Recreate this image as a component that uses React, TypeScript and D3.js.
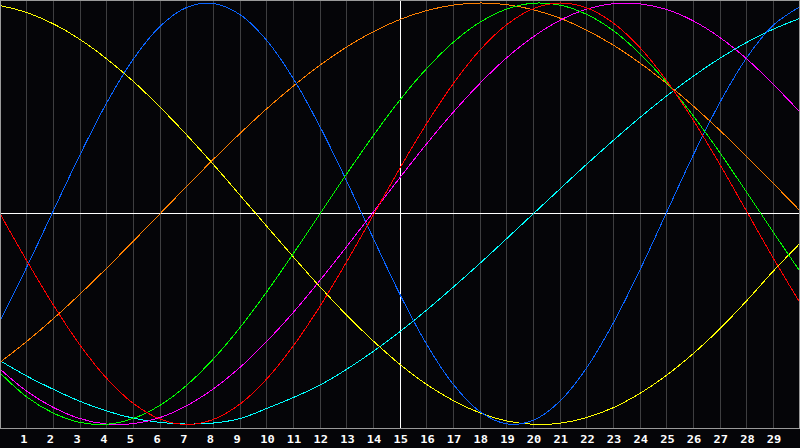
import React from 'react';
import * as d3 from 'd3';

// x positions (category index along the axis)
const xs = [0, 1, 2, 3, 4, 5, 6, 7, 8, 9, 10, 11, 12, 13, 14, 15, 16, 17, 18, 19, 20, 21, 22, 23, 24, 25, 26, 27, 28, 29, 30];

// tick labels under the grid lines
const tickLabels = ['1', '2', '3', '4', '5', '6', '7', '8', '9', '10', '11', '12', '13', '14', '15', '16', '17', '18', '19', '20', '21', '22', '23', '24', '25', '26', '27', '28', '29'];

// series values (normalised -1..1), read at each x position
const cyanValues = [-0.697, -0.770, -0.833, -0.890, -0.936, -0.970, -0.990, -0.998, -0.993, -0.972, -0.924, -0.872, -0.813, -0.738, -0.653, -0.559, -0.457, -0.348, -0.235, -0.118, 0.0, 0.118, 0.235, 0.348, 0.457, 0.559, 0.653, 0.738, 0.813, 0.876, 0.927];
const orangeValues = [-0.705, -0.606, -0.498, -0.381, -0.258, -0.130, 0.0, 0.130, 0.258, 0.381, 0.498, 0.606, 0.705, 0.791, 0.864, 0.922, 0.964, 0.990, 1.0, 0.992, 0.968, 0.928, 0.871, 0.800, 0.715, 0.618, 0.511, 0.395, 0.272, 0.144, 0.014];
const yellowValues = [0.988, 0.955, 0.901, 0.827, 0.735, 0.628, 0.506, 0.374, 0.234, 0.088, -0.059, -0.205, -0.347, -0.481, -0.604, -0.715, -0.810, -0.887, -0.945, -0.983, -0.999, -0.994, -0.967, -0.920, -0.852, -0.766, -0.663, -0.545, -0.413, -0.272, -0.140];
const blueValues = [-0.510, -0.254, 0.014, 0.280, 0.526, 0.734, 0.889, 0.979, 0.998, 0.945, 0.823, 0.641, 0.413, 0.155, -0.117, -0.383, -0.620, -0.810, -0.939, -0.997, -0.980, -0.889, -0.731, -0.518, -0.266, 0.007, 0.279, 0.529, 0.740, 0.895, 0.982];
const magentaValues = [-0.737, -0.842, -0.919, -0.972, -0.998, -0.996, -0.967, -0.911, -0.831, -0.729, -0.606, -0.468, -0.316, -0.156, 0.008, 0.172, 0.332, 0.482, 0.619, 0.740, 0.840, 0.918, 0.971, 0.997, 0.996, 0.969, 0.915, 0.836, 0.735, 0.614, 0.482];
const greenValues = [-0.755, -0.869, -0.946, -0.990, -0.999, -0.971, -0.909, -0.814, -0.689, -0.540, -0.371, -0.189, 0.0, 0.189, 0.371, 0.540, 0.689, 0.814, 0.909, 0.971, 0.999, 0.990, 0.946, 0.869, 0.759, 0.623, 0.464, 0.289, 0.102, -0.088, -0.274];
const redValues = [0.0, -0.222, -0.433, -0.623, -0.781, -0.900, -0.974, -1.0, -0.976, -0.903, -0.784, -0.627, -0.439, -0.228, -0.006, 0.217, 0.428, 0.618, 0.777, 0.897, 0.973, 1.0, 0.977, 0.905, 0.788, 0.631, 0.443, 0.233, 0.011, -0.211, -0.423];

const seriesNames = ['cyan', 'orange', 'yellow', 'blue', 'magenta', 'green', 'red'];
const seriesValues = [cyanValues, orangeValues, yellowValues, blueValues, magentaValues, greenValues, redValues];
const seriesColors = ['#00ffff', '#ff8000', '#ffff00', '#0a64ff', '#ff00ff', '#00ff00', '#ff0000'];

const W = 800;
const H = 448;
const PLOT_BOTTOM = 428;

export default function App() {
  const x = d3.scaleLinear().domain([0, 30]).range([0, W]);
  const y = d3.scaleLinear().domain([-1, 1]).range([424.5, 3]);

  const line = d3
    .line<number>()
    .x((_, i) => x(xs[i]))
    .y((d) => y(d))
    .curve(d3.curveCatmullRom.alpha(0.5));

  const gridIdx = xs.slice(1, 30);

  return (
    <svg
      width={W}
      height={H}
      style={{ position: 'absolute', left: 0, top: 0, display: 'block' }}
    >
      <rect x={0} y={0} width={W} height={H} fill="#050508" />
      {gridIdx.map((v) => {
        const px = Math.floor(x(v)) + 0.5;
        const isMid = v === 15;
        return (
          <line
            key={'g' + v}
            x1={px}
            x2={px}
            y1={0}
            y2={PLOT_BOTTOM}
            stroke={isMid ? '#ffffff' : '#3e3e40'}
            strokeWidth={1}
            shapeRendering="crispEdges"
          />
        );
      })}
      <line
        x1={0}
        x2={W}
        y1={Math.floor(y(0)) + 0.5}
        y2={Math.floor(y(0)) + 0.5}
        stroke="#ffffff"
        strokeWidth={1}
        shapeRendering="crispEdges"
      />
      <g clipPath="url(#plotClip)">
        {seriesValues.map((vals, k) => (
          <path
            key={seriesNames[k]}
            d={line(vals) || ''}
            fill="none"
            stroke={seriesColors[k]}
            strokeWidth={1}
            shapeRendering="crispEdges"
          />
        ))}
      </g>
      <defs>
        <clipPath id="plotClip">
          <rect x={0} y={0} width={W} height={PLOT_BOTTOM} />
        </clipPath>
      </defs>
      <rect
        x={0.5}
        y={0.5}
        width={W - 1}
        height={PLOT_BOTTOM - 0.5}
        fill="none"
        stroke="#9a9a9a"
        strokeWidth={1}
        shapeRendering="crispEdges"
      />
      {tickLabels.map((t, i) => (
        <text
          key={'t' + t}
          transform={`translate(${x(xs[i + 1]) - 6.5},443) scale(1.2,1)`}
          fill="#ffffff"
          fontFamily="'DejaVu Sans Mono', monospace"
          fontWeight="bold"
          fontSize={10}
          textAnchor="start"
        >
          {t}
        </text>
      ))}
    </svg>
  );
}
